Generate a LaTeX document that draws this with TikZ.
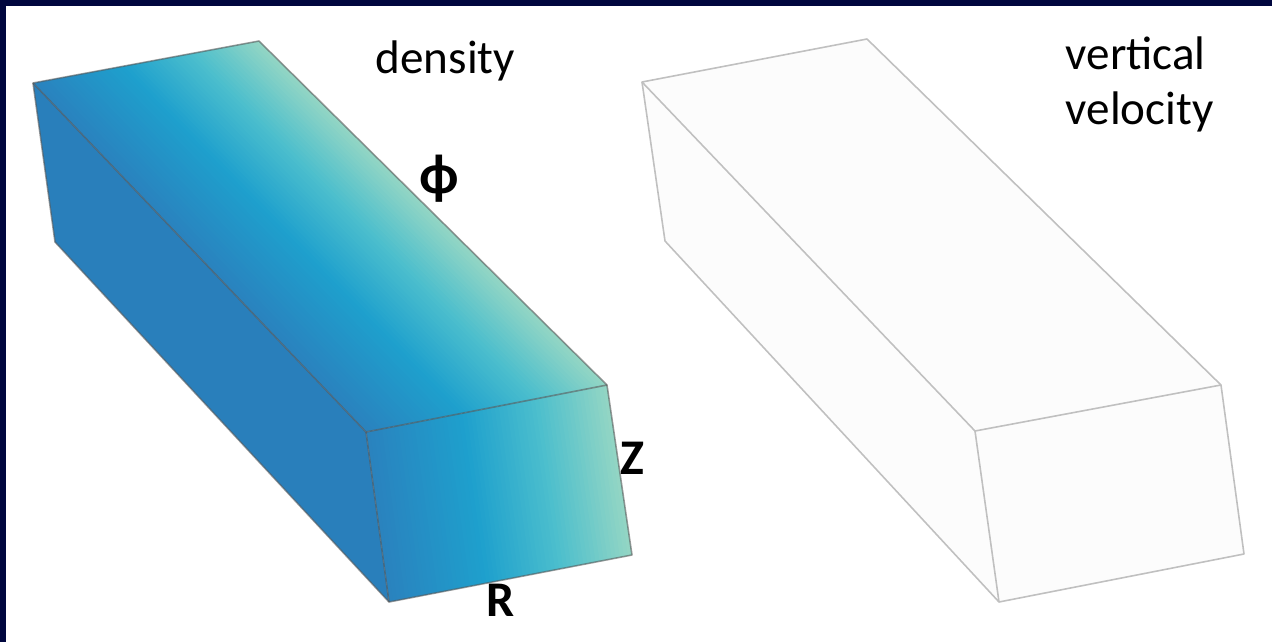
\documentclass[tikz,border=0pt]{standalone}
\usepackage{fontspec}
\setmainfont{Carlito}
\usetikzlibrary{calc}

\definecolor{frame}{RGB}{0,6,62}
\definecolor{dmapA}{RGB}{42,130,190}
\definecolor{dmapB}{RGB}{30,160,205}
\definecolor{dmapC}{RGB}{75,190,205}
\definecolor{dmapD}{RGB}{148,214,196}
\definecolor{sideblue}{RGB}{41,127,187}
\definecolor{boxgray}{RGB}{192,192,192}
\definecolor{boxfill}{RGB}{252,252,252}

% colour of the density map at position #1 (0..1) along R
\newcommand\setdens[1]{%
  \pgfmathsetmacro\dpos{#1}%
  \ifdim\dpos pt<0.4pt
    \pgfmathsetmacro\dmix{\dpos/0.4*100}\colorlet{dens}{dmapB!\dmix!dmapA}%
  \else\ifdim\dpos pt<0.7pt
    \pgfmathsetmacro\dmix{(\dpos-0.4)/0.3*100}\colorlet{dens}{dmapC!\dmix!dmapB}%
  \else
    \pgfmathsetmacro\dmix{(\dpos-0.7)/0.3*100}\colorlet{dens}{dmapD!\dmix!dmapC}%
  \fi\fi}

\tikzset{
  title/.style={font=\fontsize{13.4}{15.6}\selectfont, inner sep=0pt},
  axislabel/.style={font=\fontsize{14.2}{16}\selectfont\bfseries, inner sep=0pt},
  edge/.style={draw=black!65, draw opacity=0.6, line width=0.45pt, line join=round},
  wire/.style={draw=boxgray, line width=0.45pt, line join=round}
}

\begin{document}
\begin{tikzpicture}[x=0.01cm,y=-0.01cm]
  \useasboundingbox (0,0) rectangle (1272,642);
  % frame on the left and top
  \fill[frame] (0,0) rectangle (1272,6);
  \fill[frame] (0,0) rectangle (6,642);

  % density box (top A B C D, front D C F E, side A D E G)
  \coordinate (A) at (33,83);
  \coordinate (B) at (259,41);
  \coordinate (C) at (607,385);
  \coordinate (D) at (366,432);
  \coordinate (E) at (389,602);
  \coordinate (F) at (632,555);
  \coordinate (G) at (55,242);
  % side face
  \fill[sideblue] (A)--(D)--(E)--(G)--cycle;
  % top face, in strips along R
  \begin{scope}
    \clip (A)--(B)--(C)--(D)--cycle;
    \foreach \i in {0,...,59}{
      \setdens{(\i+0.5)/60}
      \pgfmathsetmacro\ta{\i/60}
      \pgfmathsetmacro\tb{(\i+1.6)/60}
      \fill[dens] ($(A)!\ta!(B)$) -- ($(A)!\tb!(B)$) -- ($(D)!\tb!(C)$) -- ($(D)!\ta!(C)$) -- cycle;
    }
  \end{scope}
  % front face, in strips along R
  \begin{scope}
    \clip (D)--(C)--(F)--(E)--cycle;
    \foreach \i in {0,...,59}{
      \setdens{(\i+0.5)/60}
      \pgfmathsetmacro\ta{\i/60}
      \pgfmathsetmacro\tb{(\i+1.6)/60}
      \fill[dens] ($(D)!\ta!(C)$) -- ($(D)!\tb!(C)$) -- ($(E)!\tb!(F)$) -- ($(E)!\ta!(F)$) -- cycle;
    }
  \end{scope}
  % edges
  \draw[edge] (A)--(B)--(C)--(F)--(E)--(G)--cycle;
  \draw[edge] (A)--(D)--(C);
  \draw[edge] (D)--(E);

  % vertical velocity box (empty)
  \coordinate (A2) at (642,82);
  \coordinate (B2) at (867,39);
  \coordinate (C2) at (1221,385);
  \coordinate (D2) at (975,431);
  \coordinate (E2) at (999,602);
  \coordinate (F2) at (1244,554);
  \coordinate (G2) at (665,241);
  \fill[boxfill] (A2)--(B2)--(C2)--(F2)--(E2)--(G2)--cycle;
  \draw[wire] (A2)--(B2)--(C2)--(F2)--(E2)--(G2)--cycle;
  \draw[wire] (A2)--(D2)--(C2);
  \draw[wire] (D2)--(E2);

  % titles
  \node[title,anchor=base west] (density) at (375,73) {density};
  \node[title,anchor=north west,align=left] (vvel) at (1065,36) {vertical\\velocity};
  % axis labels
  \node[axislabel,font=\fontsize{16}{18}\selectfont\bfseries] (phi) at (439,179) {ϕ};
  \node[axislabel] (zlab) at (632,458) {Z};
  \node[axislabel] (rlab) at (501,600) {R};
\end{tikzpicture}
\end{document}
